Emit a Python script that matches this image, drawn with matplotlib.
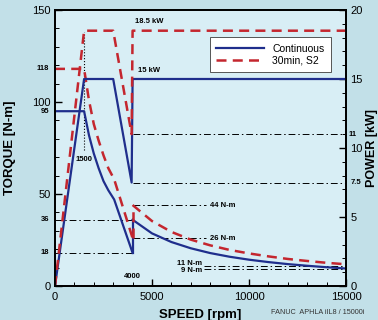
import matplotlib
matplotlib.use("Agg")
import matplotlib.pyplot as plt
from matplotlib.lines import Line2D
import matplotlib.transforms as mtransforms

plt.rcParams["font.family"] = ["Liberation Sans", "DejaVu Sans"]

# ---- data ----
# torque curves [N-m]
speed_cont_lo = [0, 1500, 1750, 2000, 2250, 2500, 2750, 3050, 4000]
torque_cont_lo = [95, 95, 82, 72, 64, 57, 52, 47, 18]
speed_cont_hi = [4000, 5000, 6000, 7000, 8000, 9000, 10000, 11000, 12000, 13000, 14000, 15000]
torque_cont_hi = [36, 28.6, 23.9, 20.5, 17.9, 15.9, 14.3, 13.0, 11.9, 11.0, 10.2, 9.5]

speed_s2_lo = [0, 1500, 1750, 2000, 2250, 2500, 2750, 3050, 4000]
torque_s2_lo = [118, 118, 101, 88, 79, 71, 64, 58, 26]
speed_s2_hi = [4000, 5000, 6000, 7000, 8000, 9000, 10000, 11000, 12000, 13000, 14000, 15000]
torque_s2_hi = [44, 35.3, 29.4, 25.2, 22.1, 19.6, 17.7, 16.1, 14.7, 13.6, 12.6, 11.8]

# power curves [kW]
speed_pw = [0, 1500, 3000, 3950, 4000, 15000]
power_cont = [0, 15, 15, 7.5, 15, 15]
power_s2 = [0, 18.5, 18.5, 11, 18.5, 18.5]

BLUE = "#1f2e8c"
RED = "#c4262e"

# ---- plot ----
fig = plt.figure(figsize=(3.78, 3.2), dpi=100, facecolor="#c2e0e8")
ax = fig.add_axes([0.1455, 0.10625, 0.7698, 0.8625])
ax.set_facecolor("#d8eef5")
ax2 = ax.twinx()

ax.set_xlim(0, 15000)
ax.set_ylim(0, 150)
ax2.set_ylim(0, 20)

dd = (0, (7, 3, 1.5, 3))
ref_kw = dict(color="black", lw=0.7, linestyle=dd)

# reference lines (torque)
ax.plot([0, 4000], [36, 36], **ref_kw)
ax.plot([0, 4000], [18, 18], **ref_kw)
ax.plot([4000, 7800], [44, 44], **ref_kw)
ax.plot([4000, 7800], [26, 26], **ref_kw)
ax.plot([7700, 15000], [11, 11], **ref_kw)
ax.plot([7700, 15000], [9, 9], **ref_kw)
ax.plot([1500, 1500], [74, 138], color="black", lw=0.8, linestyle=":")
# reference lines (power)
ax2.plot([4000, 15000], [11, 11], **ref_kw)
ax2.plot([4000, 15000], [7.5, 7.5], **ref_kw)

# curves
dash = (0, (4, 2.5))
ax.plot(speed_cont_lo, torque_cont_lo, color=BLUE, lw=1.6)
ax.plot(speed_cont_hi, torque_cont_hi, color=BLUE, lw=1.6)
ax.plot([4000, 4000], [torque_cont_lo[-1], torque_cont_hi[0]], color=BLUE, lw=1.6)
ax.plot(speed_s2_lo, torque_s2_lo, color=RED, lw=1.8, linestyle=dash)
ax.plot(speed_s2_hi, torque_s2_hi, color=RED, lw=1.8, linestyle=dash)
ax.plot([4000, 4000], [torque_s2_lo[-1], torque_s2_hi[0]], color=RED, lw=1.8, linestyle=dash)
ax2.plot(speed_pw, power_cont, color=BLUE, lw=1.6)
ax2.plot(speed_pw, power_s2, color=RED, lw=1.8, linestyle=dash)

# ticks
ax.set_xticks([0, 5000, 10000, 15000])
ax.set_xticks(range(0, 15001, 1000), minor=True)
ax.set_yticks([0, 50, 100, 150])
ax.set_yticks(range(0, 151, 10), minor=True)
ax2.set_yticks([0, 5, 10, 15, 20])
ax2.set_yticks(range(0, 21), minor=True)
for a in (ax, ax2):
    a.tick_params(which="major", direction="in", length=5, width=1, labelsize=8, pad=3)
    a.tick_params(which="minor", direction="in", length=3, width=0.7)
    for s in a.spines.values():
        s.set_linewidth(1.3)
ax.tick_params(axis="x", which="major", pad=4.5)

# axis labels
ax.set_ylabel("TORQUE [N-m]", fontsize=9.5, fontweight="bold")
ax.yaxis.set_label_coords(-0.135, 0.5)
ax2.set_ylabel("POWER [kW]", fontsize=9, fontweight="bold", rotation=90)
ax2.yaxis.set_label_coords(1.068, 0.5)
ax.set_xlabel("SPEED [rpm]", fontsize=9.5, fontweight="bold")
ax.xaxis.set_label_coords(0.5, -0.085)

# extra bold value labels
lbl = dict(fontsize=5.5, fontweight="bold")
tl = mtransforms.blended_transform_factory(ax.transAxes, ax.transData)
for v, s in [(118, "118"), (95, "95"), (36, "36"), (18, "18")]:
    ax.text(-0.02, v, s, transform=tl, ha="right", va="center", **lbl)
tr = mtransforms.blended_transform_factory(ax2.transAxes, ax2.transData)
ax2.text(1.01, 11, "11", transform=tr, ha="left", va="center", **lbl)
ax2.text(1.015, 7.5, "7.5", transform=tr, ha="left", va="center", **lbl)

ax.text(8000, 44, "44 N-m", ha="left", va="center", **lbl)
ax.text(8000, 26, "26 N-m", ha="left", va="center", **lbl)
ax.text(7600, 12.2, "11 N-m", ha="right", va="center", **lbl)
ax.text(7600, 8.6, "9 N-m", ha="right", va="center", **lbl)
ax.text(1500, 69, "1500", ha="center", va="center", **lbl)
ax.text(4000, 5, "4000", ha="center", va="center", **lbl)
ax2.text(4850, 19.2, "18.5 kW", ha="center", va="center", **lbl)
ax2.text(4850, 15.6, "15 kW", ha="center", va="center", **lbl)

fig.text(0.965, 0.022, "FANUC  APHLA iIL8 / 15000i", ha="right", va="center",
         fontsize=5.2, color="#333333")

# legend
handles = [Line2D([], [], color=BLUE, lw=1.6),
           Line2D([], [], color=RED, lw=1.8, linestyle=dash)]
leg = ax2.legend(handles, ["Continuous", "30min, S2"], loc="upper right",
                 bbox_to_anchor=(0.965, 0.92), fontsize=7.5, handlelength=4.6,
                 fancybox=False, framealpha=1, edgecolor="#555555",
                 borderpad=0.6, labelspacing=0.2, handletextpad=0.8)
leg.get_frame().set_linewidth(0.7)

fig.savefig("out.png", dpi=100, facecolor=fig.get_facecolor())
